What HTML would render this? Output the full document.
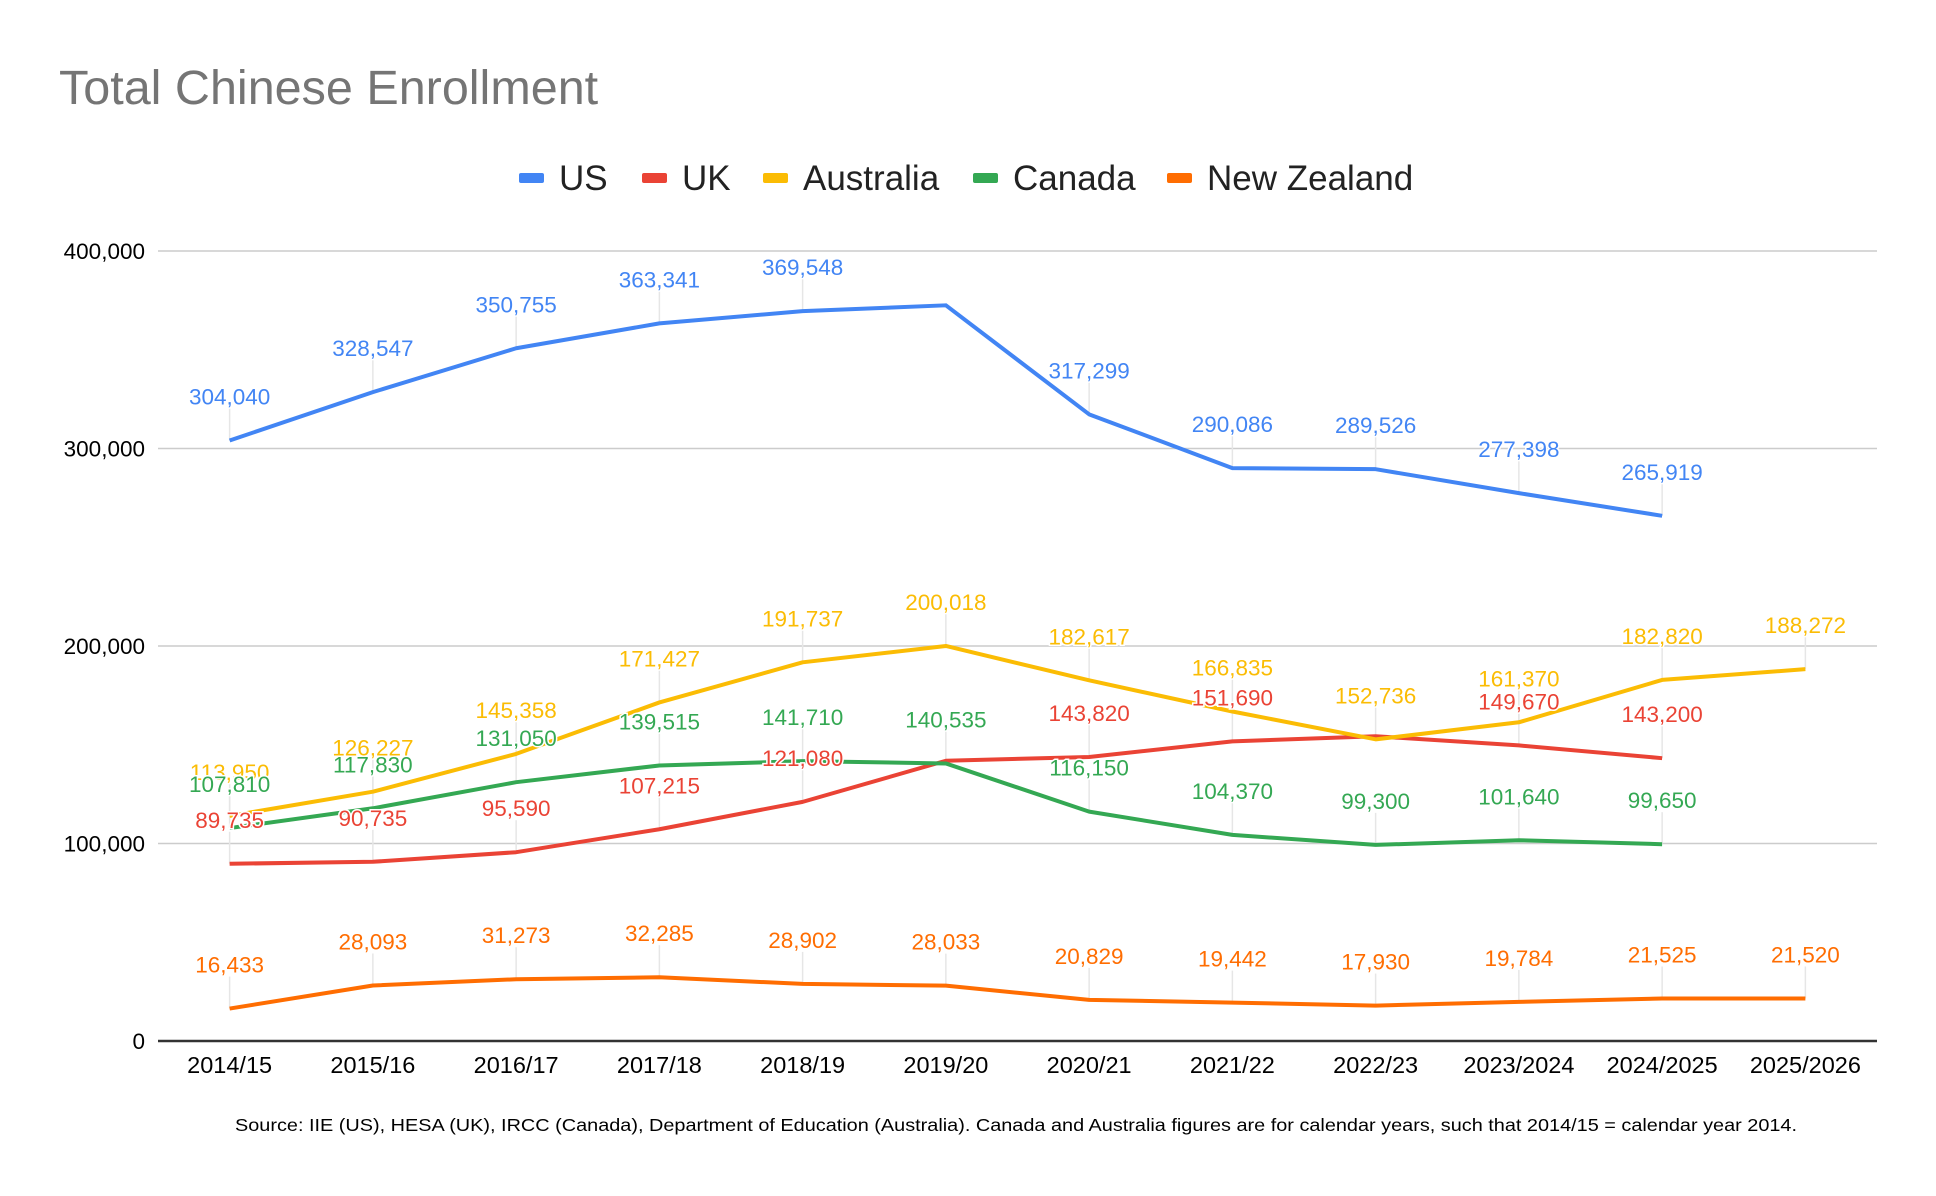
<!DOCTYPE html>
<html><head><meta charset="utf-8"><style>
html,body{margin:0;padding:0;background:#fff;}
svg{display:block;font-family:"Liberation Sans",Arial,sans-serif;}
</style></head><body>
<svg id="chart" width="1936" height="1196" viewBox="0 0 1936 1196" xmlns="http://www.w3.org/2000/svg">
<rect width="1936" height="1196" fill="#fff"/>
<text x="59" y="104" font-size="48.5" fill="#757575">Total Chinese Enrollment</text>
<g id="legend"></g>
<g id="grid"></g>
<g id="leaders"></g>
<g id="lines"></g>
<g id="labels"></g>
<g id="xaxis"></g>
<text x="1016" y="1131" font-size="17.5" text-anchor="middle" fill="#000" textLength="1562" lengthAdjust="spacingAndGlyphs">Source: IIE (US), HESA (UK), IRCC (Canada), Department of Education (Australia). Canada and Australia figures are for calendar years, such that 2014/15 = calendar year 2014.</text>
</svg>
<script>
const categories = ["2014/15","2015/16","2016/17","2017/18","2018/19","2019/20","2020/21","2021/22","2022/23","2023/2024","2024/2025","2025/2026"];
const usValues = [304040,328547,350755,363341,369548,372500,317299,290086,289526,277398,265919,null];
const usLabels = [true,true,true,true,true,false,true,true,true,true,true,false];
const ukValues = [89735,90735,95590,107215,121080,141900,143820,151690,154300,149670,143200,null];
const ukLabels = [true,true,true,true,true,false,true,true,false,true,true,false];
const auValues = [113950,126227,145358,171427,191737,200018,182617,166835,152736,161370,182820,188272];
const caValues = [107810,117830,131050,139515,141710,140535,116150,104370,99300,101640,99650,null];
const nzValues = [16433,28093,31273,32285,28902,28033,20829,19442,17930,19784,21525,21520];
const yTicks = [0,100000,200000,300000,400000];
const seriesNames = ["US","UK","Australia","Canada","New Zealand"];

const NS="http://www.w3.org/2000/svg";
const L=158,R=1877,T=251,B=1041,YMAX=400000;
const band=(R-L)/categories.length;
function xPos(i){return L+band*(i+0.5);}
function yPos(v){return B-(v/YMAX)*(B-T);}
function mk(tag,attrs,parent){const e=document.createElementNS(NS,tag);for(const k in attrs)e.setAttribute(k,attrs[k]);parent.appendChild(e);return e;}
function fmt(v){return v.toLocaleString("en-US");}

const grid=document.getElementById("grid");
yTicks.forEach(t=>{
  const ln=mk("line",{x1:L,x2:R,y1:yPos(t),y2:yPos(t),stroke:t===0?"#333":"#ccc","stroke-width":t===0?2.5:1.5},grid);
  
  
  const tx=mk("text",{x:145,y:yPos(t)+8,"font-size":22.5,"text-anchor":"end",fill:"#000"},grid);
  tx.textContent=fmt(t);
  
  
});

const xa=document.getElementById("xaxis");
categories.forEach((c,i)=>{
  const tx=mk("text",{x:xPos(i),y:1073,"font-size":23.5,"text-anchor":"middle",fill:"#000"},xa);
  tx.textContent=c;
  
  
});

const series=[
  {vals:usValues,show:usLabels,color:"#4285F4",name:"us"},
  {vals:ukValues,show:ukLabels,color:"#EA4335",name:"uk"},
  {vals:auValues,show:null,color:"#FBBC04",name:"australia"},
  {vals:caValues,show:null,color:"#34A853",name:"canada"},
  {vals:nzValues,show:null,color:"#FF6D01",name:"new-zealand"}
];
const lines=document.getElementById("lines"),labels=document.getElementById("labels"),leaders=document.getElementById("leaders");
series.forEach(s=>{
  let d="";
  s.vals.forEach((v,i)=>{if(v==null)return;d+=(d?"L":"M")+xPos(i)+","+yPos(v);});
  const p=mk("path",{d:d,fill:"none",stroke:s.color,"stroke-width":4,"stroke-linejoin":"round"},lines);
  
  
  s.vals.forEach((v,i)=>{
    if(v==null)return;
    if(s.show&&!s.show[i])return;
    const y=yPos(v);
    const ld=mk("line",{x1:xPos(i),x2:xPos(i),y1:y,y2:y-32,stroke:"#e6e6e6","stroke-width":1.5},leaders);
    
    
    const tx=mk("text",{x:xPos(i),y:y-36,"font-size":22.5,"text-anchor":"middle",fill:s.color,stroke:"#fff","stroke-width":3,"paint-order":"stroke"},labels);
    tx.textContent=fmt(v);
    
    
  });
});

const legend=document.getElementById("legend");
const legendX=[519,642,763,973,1167];
const legendColors=["#4285F4","#EA4335","#FBBC04","#34A853","#FF6D01"];
seriesNames.forEach((n,i)=>{
  const g=mk("g",{},legend);
  
  
  mk("rect",{x:legendX[i],y:173,width:25,height:10,rx:2,fill:legendColors[i]},g);
  const tx=mk("text",{x:legendX[i]+40,y:190,"font-size":35,fill:"#222"},g);
  tx.textContent=n;
});
</script>
</body></html>
